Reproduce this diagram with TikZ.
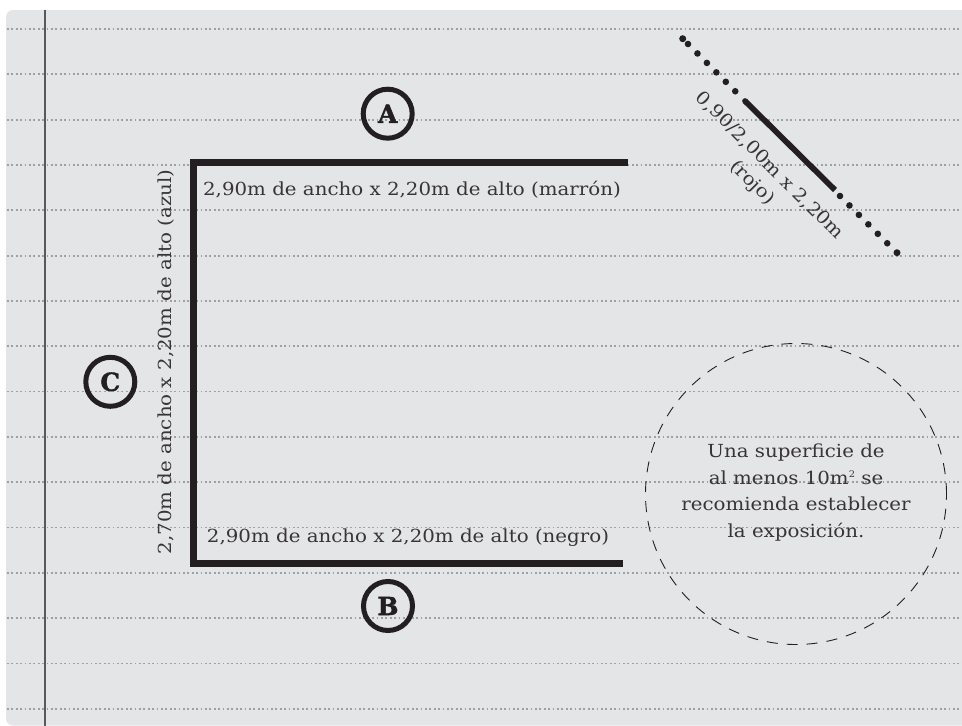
\documentclass[tikz,border=0pt]{standalone}
\usepackage{fontspec}
\setmainfont[FakeStretch=1.1]{DejaVu Serif}
\newfontfamily\tagfont[FakeBold=1.5]{DejaVu Serif Bold}
\definecolor{paper}{HTML}{E4E5E7}
\definecolor{ink}{HTML}{231F20}
\definecolor{rule}{HTML}{A0A0A2}
\definecolor{margin}{HTML}{58595B}
\tikzset{
 x=1pt,y=-1pt,
 ruleline/.style={rule,line width=1.7pt,dash pattern=on 1.7pt off 2.7pt},
 wall/.style={ink,line width=7pt,line cap=butt,line join=miter},
 tag/.style={circle,draw=ink,line width=5pt,minimum size=49pt,inner sep=0pt,font=\fontsize{25}{25}\selectfont\tagfont,text=ink},
 lab/.style={text=ink!90,font=\fontsize{18}{18}\selectfont,inner sep=0pt},
 dot/.style={ink},
}
\begin{document}
\begin{tikzpicture}
\useasboundingbox (0,0) rectangle (962,726);
\fill[paper,rounded corners=7pt] (6,10) rectangle (990,725.5);
\foreach \n in {0,...,15}{
  \draw[ruleline] (7,{29+45.33*\n}) -- (962,{29+45.33*\n});
}
\draw[margin,line width=1.6pt] (44.7,10) -- (44.7,726);
\coordinate (ta) at (628,162);
\coordinate (co) at (193.5,162);
\coordinate (cb) at (193.5,563.3);
\coordinate (tb) at (622.5,563.3);
\draw[wall] (ta) -- (co) -- (cb) -- (tb);
\node[tag] (A) at (387.7,113.7) {A};
\node[tag] (B) at (388,606) {B};
\node[tag] (C) at (110.3,381.8) {C};
\node[lab] (ltop) at (412,190) {2,90m de ancho x 2,20m de alto (marrón)};
\node[lab] (lbot) at (408,538) {2,90m de ancho x 2,20m de alto (negro)};
\node[lab,rotate=90] (lside) at (166.5,362) {2,70m de ancho x 2,20m de alto (azul)};
\coordinate (p1) at (745,101);
\coordinate (p2) at (835,190);
\fill[ink] (p1) circle (2.85pt);
\draw[ink,line width=5.7pt] (p1) -- (p2);
\foreach \i in {0,...,5}{
  \fill[dot] ({688+9.45*\i},{44+9.45*\i}) circle (3.3pt);
}
\fill[dot] (682.7,38.7) circle (3.5pt);
\foreach \i in {0,...,5}{
  \fill[dot] ({840+9.45*\i},{196+9.45*\i}) circle (3.3pt);
}
\fill[dot] (897,252.7) circle (3.5pt);
\node[lab,rotate=-45] (ld) at (769.5,165.5) {0,90/2,00m x 2,20m};
\node[lab,rotate=-45] (lr) at (752,183) {(rojo)};
\node[circle,draw=ink,line width=.9pt,dash pattern=on 11pt off 9pt,minimum size=301pt,inner sep=0pt] (sup) at (796,494) {};
\node[lab,align=center,font=\fontsize{18}{26.9}\selectfont] (txt) at (796,492.5) {Una superficie de\\al menos 10m\raisebox{.75ex}{\fontsize{9}{9}\selectfont 2} se\\recomienda establecer\\la exposición.};
\end{tikzpicture}
\end{document}
